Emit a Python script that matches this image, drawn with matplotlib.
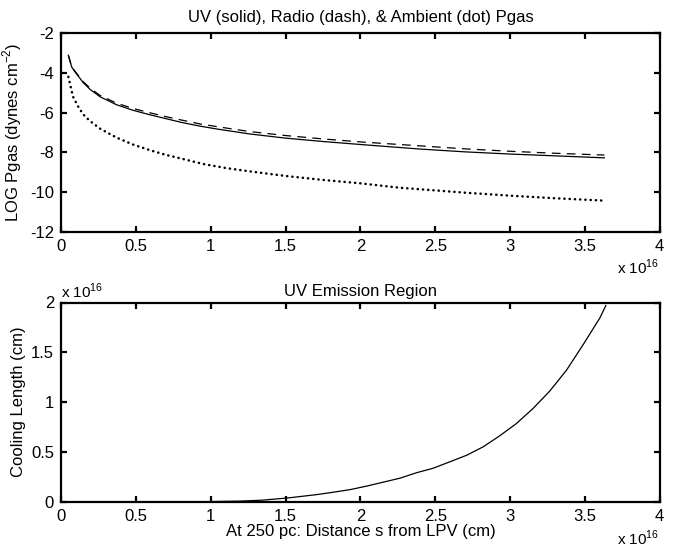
import matplotlib
matplotlib.use('Agg')
import matplotlib.pyplot as plt

plt.rcParams['font.family'] = ['Liberation Sans', 'DejaVu Sans']
plt.rcParams['font.size'] = 12
plt.rcParams['axes.unicode_minus'] = False
plt.rcParams['mathtext.fontset'] = 'custom'
plt.rcParams['mathtext.rm'] = 'Liberation Sans'

# distance s in units of 1e16 cm
s_uv = [0.049, 0.071, 0.093, 0.127, 0.149, 0.194, 0.26, 0.37, 0.48, 0.59, 0.7, 0.81, 0.93,
        1.04, 1.26, 1.5, 1.75, 2.0, 2.26, 2.4, 2.7, 3.0, 3.3, 3.63]
p_uv = [-3.12, -3.7, -3.95, -4.28, -4.5, -4.83, -5.2, -5.6, -5.88, -6.1, -6.3, -6.5, -6.68,
        -6.82, -7.07, -7.28, -7.45, -7.6, -7.75, -7.83, -7.97, -8.08, -8.17, -8.27]

s_radio = [0.049, 0.071, 0.093, 0.127, 0.149, 0.194, 0.26, 0.37, 0.48, 0.59, 0.7, 0.81, 0.93,
           1.04, 1.26, 1.5, 1.75, 2.0, 2.26, 2.4, 2.7, 3.0, 3.3, 3.63]
p_radio = [-3.12, -3.68, -3.92, -4.24, -4.45, -4.77, -5.13, -5.52, -5.79, -6.0, -6.2, -6.38, -6.57,
           -6.7, -6.95, -7.15, -7.32, -7.47, -7.6, -7.67, -7.82, -7.94, -8.04, -8.13]

s_amb = [0.049, 0.08, 0.12, 0.15, 0.19, 0.26, 0.37, 0.48, 0.6, 0.7, 0.81, 0.95, 1.1, 1.26,
         1.5, 1.75, 2.0, 2.26, 2.4, 2.7, 3.0, 3.3, 3.63]
p_amb = [-4.2, -5.2, -5.77, -6.1, -6.4, -6.8, -7.25, -7.6, -7.9, -8.12, -8.32, -8.58, -8.78, -8.95,
         -9.18, -9.38, -9.55, -9.77, -9.85, -10.02, -10.17, -10.3, -10.42]

# cooling length in units of 1e16 cm
s_cool = [0.049, 0.5, 1.0, 1.2, 1.35, 1.518, 1.707, 1.818, 1.93, 2.04, 2.152, 2.264, 2.375,
          2.486, 2.598, 2.709, 2.82, 2.93, 3.043, 3.154, 3.265, 3.377, 3.488, 3.6, 3.64]
l_cool = [0.0, 0.0, 0.0, 0.005, 0.015, 0.037, 0.07, 0.094, 0.12, 0.155, 0.195, 0.235, 0.29,
          0.335, 0.40, 0.465, 0.55, 0.66, 0.785, 0.936, 1.11, 1.32, 1.576, 1.845, 1.97]

xticks = [0, 0.5, 1, 1.5, 2, 2.5, 3, 3.5, 4]
xticklabels = ['0', '0.5', '1', '1.5', '2', '2.5', '3', '3.5', '4']

fig = plt.figure(figsize=(6.75, 5.5), dpi=100)
ax1 = fig.add_axes([0.0904, 0.578, 0.887, 0.362])
ax2 = fig.add_axes([0.0904, 0.088, 0.887, 0.362])

def matlab_style(ax):
    for sp in ax.spines.values():
        sp.set_linewidth(1.6)
    ax.tick_params(direction='in', top=True, right=True, length=4, width=1.6,
                   labelsize=12, pad=5)
    ax.set_xlim(0, 4)
    ax.set_xticks(xticks)
    ax.set_xticklabels(xticklabels)

ax1.plot(s_uv, p_uv, color='black', lw=0.9)
ax1.plot(s_radio, p_radio, color='black', lw=0.9, linestyle=(0, (7, 5)))
ax1.plot(s_amb, p_amb, color='black', lw=1.8, linestyle=(0, (0.1, 2.0)),
         dash_capstyle='round')
matlab_style(ax1)
ax1.set_ylim(-12, -2)
ax1.set_yticks([-12, -10, -8, -6, -4, -2])
ax1.set_title('UV (solid), Radio (dash), & Ambient (dot) Pgas', fontsize=12, pad=8)
ax1.set_ylabel('LOG Pgas (dynes cm$^{-2}$)', labelpad=4)
ax1.text(1.0, -0.13, 'x 10$^{16}$', transform=ax1.transAxes, ha='right', va='top',
         fontsize=11)

ax2.plot(s_cool, l_cool, color='black', lw=0.9)
matlab_style(ax2)
ax2.set_ylim(0, 2)
ax2.set_yticks([0, 0.5, 1, 1.5, 2])
ax2.set_yticklabels(['0', '0.5', '1', '1.5', '2'])
ax2.set_title('UV Emission Region', fontsize=12, pad=5)
ax2.set_ylabel('Cooling Length (cm)', labelpad=4)
ax2.set_xlabel('At 250 pc: Distance s from LPV (cm)', labelpad=0)
fig.text(0.977, 0.004, 'x 10$^{16}$', ha='right', va='bottom', fontsize=11)
ax2.text(0.0, 1.01, 'x 10$^{16}$', transform=ax2.transAxes, ha='left', va='bottom',
         fontsize=11)

fig.savefig('out.png', dpi=100)
